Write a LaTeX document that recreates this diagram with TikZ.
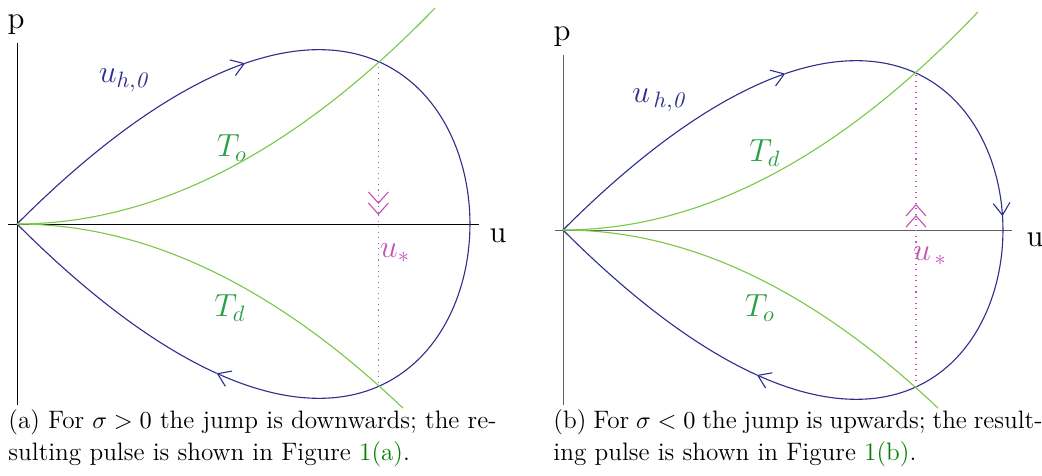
\documentclass[tikz,border=0pt]{standalone}
\usetikzlibrary{arrows.meta}
\definecolor{orbitblue}{RGB}{46,46,140}
\definecolor{curvegreen}{RGB}{122,200,72}
\definecolor{labelgreen}{RGB}{40,160,70}
\definecolor{jumppink}{RGB}{195,82,178}
\definecolor{refgreen}{RGB}{0,128,0}
\definecolor{axisgray}{RGB}{95,95,95}

\begin{document}
\begin{tikzpicture}[x=0.45pt,y=0.45pt,
    orbit/.style={orbitblue,line width=0.5pt},
    curve/.style={curvegreen,line width=0.5pt},
    jump/.style={jumppink,dotted,line width=0.5pt},
    barb/.style={-{Straight Barb[length=5.5pt,width=7.5pt]}},
    dbarb/.style={-{Straight Barb[length=5pt,width=9pt,sep=-0.6pt]Straight Barb[length=5pt,width=9pt]}},
    lbl/.style={font=\fontsize{14}{16}\selectfont},
    caption/.style={anchor=north west,align=left,inner sep=0pt,
      font=\fontsize{11.35}{14.4}\selectfont}]
  \useasboundingbox (0,0) rectangle (1042,476);

  % (a) sigma > 0, loop length 453
  \begin{scope}[shift={(17,252)}]
    \draw (0,-181)--(0,181);
    \draw (-9,0)--(462,0);
    \node[lbl] (pA) at (-1,199) {p};
    \node[lbl] (uA) at (481,-12) {u};
    % orbit u_{h,0}: u = L cos^2, p = L cos^2 sin
    \draw[orbit,barb] plot[domain=90:44.8,samples=80]
      ({453*cos(\x)*cos(\x)},{453*cos(\x)*cos(\x)*sin(\x)});
    \draw[orbit,barb] plot[domain=44.8:-48.4,samples=160]
      ({453*cos(\x)*cos(\x)},{453*cos(\x)*cos(\x)*sin(\x)});
    \draw[orbit] plot[domain=-48.4:-90,samples=80]
      ({453*cos(\x)*cos(\x)},{453*cos(\x)*cos(\x)*sin(\x)});
    % parabolas T_o (up), T_d (down)
    \draw[curve] plot[domain=0:418,samples=60] (\x,{0.001243*\x*\x});
    \draw[curve] plot[domain=0:386,samples=60] (\x,{-0.001243*\x*\x});
    % jump down at u_*
    \coordinate (topA) at (361.4,162.3);
    \coordinate (botA) at (361.4,-162.3);
    \coordinate (tipA) at (361.4,9);
    \draw[jump,dbarb] (topA)--(tipA);
    \draw[jump] (tipA)--(botA);
    \node[lbl,orbitblue] (orbA) at (108,144) {$u_{h,\mathit{0}}$};
    \node[lbl,labelgreen] (toA) at (215,76) {$T_o$};
    \node[lbl,labelgreen] (tdA) at (213,-84) {$T_d$};
    \node[lbl,jumppink] (usA) at (378,-29) {$u_*$};
  \end{scope}

  % (b) sigma < 0, loop length 440
  \begin{scope}[shift={(563,246)}]
    \draw[axisgray] (0,-175)--(0,175);
    \draw[axisgray] (-8,0)--(449,0);
    \node[lbl] (pB) at (-1,193) {p};
    \node[lbl] (uB) at (472,-10) {u};
    \draw[orbit,barb] plot[domain=90:44.7,samples=80]
      ({440*cos(\x)*cos(\x)},{440*cos(\x)*cos(\x)*sin(\x)});
    \draw[orbit,barb] plot[domain=44.7:1.8,samples=100]
      ({440*cos(\x)*cos(\x)},{440*cos(\x)*cos(\x)*sin(\x)});
    \draw[orbit,barb] plot[domain=1.8:-48.4,samples=100]
      ({440*cos(\x)*cos(\x)},{440*cos(\x)*cos(\x)*sin(\x)});
    \draw[orbit] plot[domain=-48.4:-90,samples=80]
      ({440*cos(\x)*cos(\x)},{440*cos(\x)*cos(\x)*sin(\x)});
    % parabolas T_d (up), T_o (down)
    \draw[curve] plot[domain=0:415,samples=60] (\x,{0.00126*\x*\x});
    \draw[curve] plot[domain=0:375,samples=60] (\x,{-0.00126*\x*\x});
    % jump up at u_*
    \coordinate (topB) at (353,157);
    \coordinate (botB) at (353,-157);
    \coordinate (tipB) at (353,26);
    \draw[jump,dbarb] (botB)--(tipB);
    \draw[jump] (tipB)--(topB);
    \node[lbl,orbitblue] (orbB) at (97,130) {$u_{\,h,\mathit{0}}$};
    \node[lbl,labelgreen] (tdB) at (202,77) {$T_d$};
    \node[lbl,labelgreen] (toB) at (197,-78) {$T_o$};
    \node[lbl,jumppink] (usB) at (367,-26) {$u_{\,*}$};
  \end{scope}

  % captions
  \node[caption] (capA) at (8,67)
    {(a) For $\sigma>0$ the jump is downwards; the re-\\
     sulting pulse is shown in Figure \textcolor{refgreen}{1(a)}.};
  \node[caption] (capB) at (553,67)
    {\spaceskip=3.1pt (b) For $\sigma<0$ the jump is upwards; the result-\\
     ing pulse is shown in Figure \textcolor{refgreen}{1(b)}.};
\end{tikzpicture}
\end{document}
